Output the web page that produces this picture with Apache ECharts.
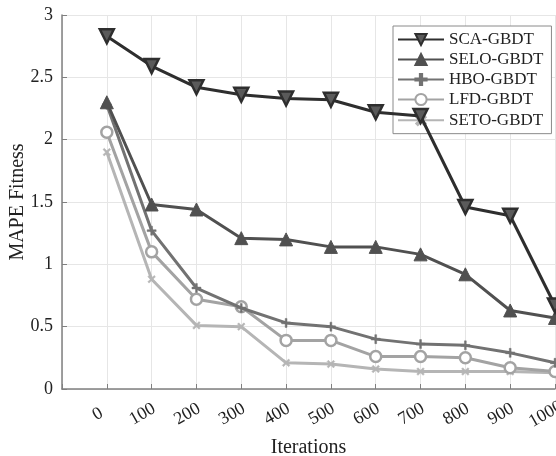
<!DOCTYPE html>
<html><head><meta charset="utf-8">
<script src="https://cdn.jsdelivr.net/npm/echarts@6/dist/echarts.min.js"></script>
<style>html,body{margin:0;padding:0;background:#fff}#c{width:556px;height:456px}</style>
</head><body><div id="c"></div>
<script>
const iterations = [0,100,200,300,400,500,600,700,800,900,1000];
const sca  = [2.83,2.59,2.42,2.36,2.33,2.32,2.22,2.19,1.46,1.39,0.67];
const selo = [2.30,1.48,1.44,1.21,1.20,1.14,1.14,1.08,0.92,0.63,0.57];
const hbo  = [2.28,1.27,0.81,0.65,0.53,0.50,0.40,0.36,0.35,0.29,0.21];
const lfd  = [2.06,1.10,0.72,0.66,0.39,0.39,0.26,0.26,0.25,0.17,0.14];
const seto = [1.90,0.88,0.51,0.50,0.21,0.20,0.16,0.14,0.14,0.14,0.13];
const names = ['SCA-GBDT','SELO-GBDT','HBO-GBDT','LFD-GBDT','SETO-GBDT'];
const FONT = '"Liberation Serif","Times New Roman",serif';
const plusPath = 'path://M4,0H6V4H10V6H6V10H4V6H0V4H4Z';
function pts(arr){ return iterations.map((x,i)=>[x,arr[i]]); }
const styles = [
  {data:sca, color:'#2e2e2e', symbol:'triangle', rot:180, size:14, fill:'#5a5a5a', bw:2.5},
  {data:selo, color:'#505050', symbol:'triangle', rot:0, size:13, fill:'#505050', bw:1},
  {data:hbo, color:'#727272', symbol:plusPath, rot:0, size:9, fill:'#727272', bw:0.5},
  {data:lfd, color:'#a3a3a3', symbol:'circle', rot:0, size:11, fill:'#ffffff', bw:2.5},
  {data:seto, color:'#b5b5b5', symbol:plusPath, rot:45, size:9, fill:'#b5b5b5', bw:0.5}
];
const chart = echarts.init(document.getElementById('c'));
chart.setOption({
  animation:false,
  backgroundColor:'#fff',
  grid:{left:62,right:1,top:15,bottom:67, containLabel:false, outerBoundsMode:'none'},
  legend:{
    orient:'vertical', left:393, top:26, itemGap:3, itemWidth:46, itemHeight:14,
    backgroundColor:'#fff', borderColor:'#8a8a8a', borderWidth:1, borderRadius:0,
    padding:[5,8,4,4],
    textStyle:{fontFamily:FONT, fontSize:17, color:'#222'},
    data:names
  },
  xAxis:{
    type:'value', min:-100, max:1000, interval:100,
    name:'Iterations', nameLocation:'middle', nameGap:47,
    nameTextStyle:{fontFamily:FONT, fontSize:20, color:'#222'},
    axisLine:{show:true, onZero:false, lineStyle:{color:'#808080', width:1.5}},
    axisTick:{show:true, inside:true, length:5, lineStyle:{color:'#808080'}},
    axisLabel:{rotate:30, margin:20, align:'center', verticalAlign:'middle',
      padding:[0,21,0,0], fontFamily:FONT, fontSize:18, color:'#222',
      formatter:v=> v<0 ? '' : String(v)},
    splitLine:{show:true, lineStyle:{color:'#e6e6e6', width:1}}
  },
  yAxis:{
    type:'value', min:0, max:3, interval:0.5,
    name:'MAPE Fitness', nameLocation:'middle', nameGap:34, nameMoveOverlap:false,
    nameTextStyle:{fontFamily:FONT, fontSize:20, color:'#222'},
    axisLine:{show:true, onZero:false, lineStyle:{color:'#808080', width:1.5}},
    axisTick:{show:true, inside:true, length:5, lineStyle:{color:'#808080'}},
    axisLabel:{fontFamily:FONT, fontSize:18, color:'#222', margin:9},
    splitLine:{show:true, lineStyle:{color:'#e6e6e6', width:1}}
  },
  series: styles.map((s,i)=>({
    name:names[i], type:'line', data:pts(s.data),
    symbol:s.symbol, symbolSize:s.size, symbolRotate:s.rot, showAllSymbol:true,
    lineStyle:{color:s.color, width:3},
    itemStyle:{color:s.fill, borderColor:s.color, borderWidth:s.bw},
    z: 10-i
  }))
});
</script></body></html>
